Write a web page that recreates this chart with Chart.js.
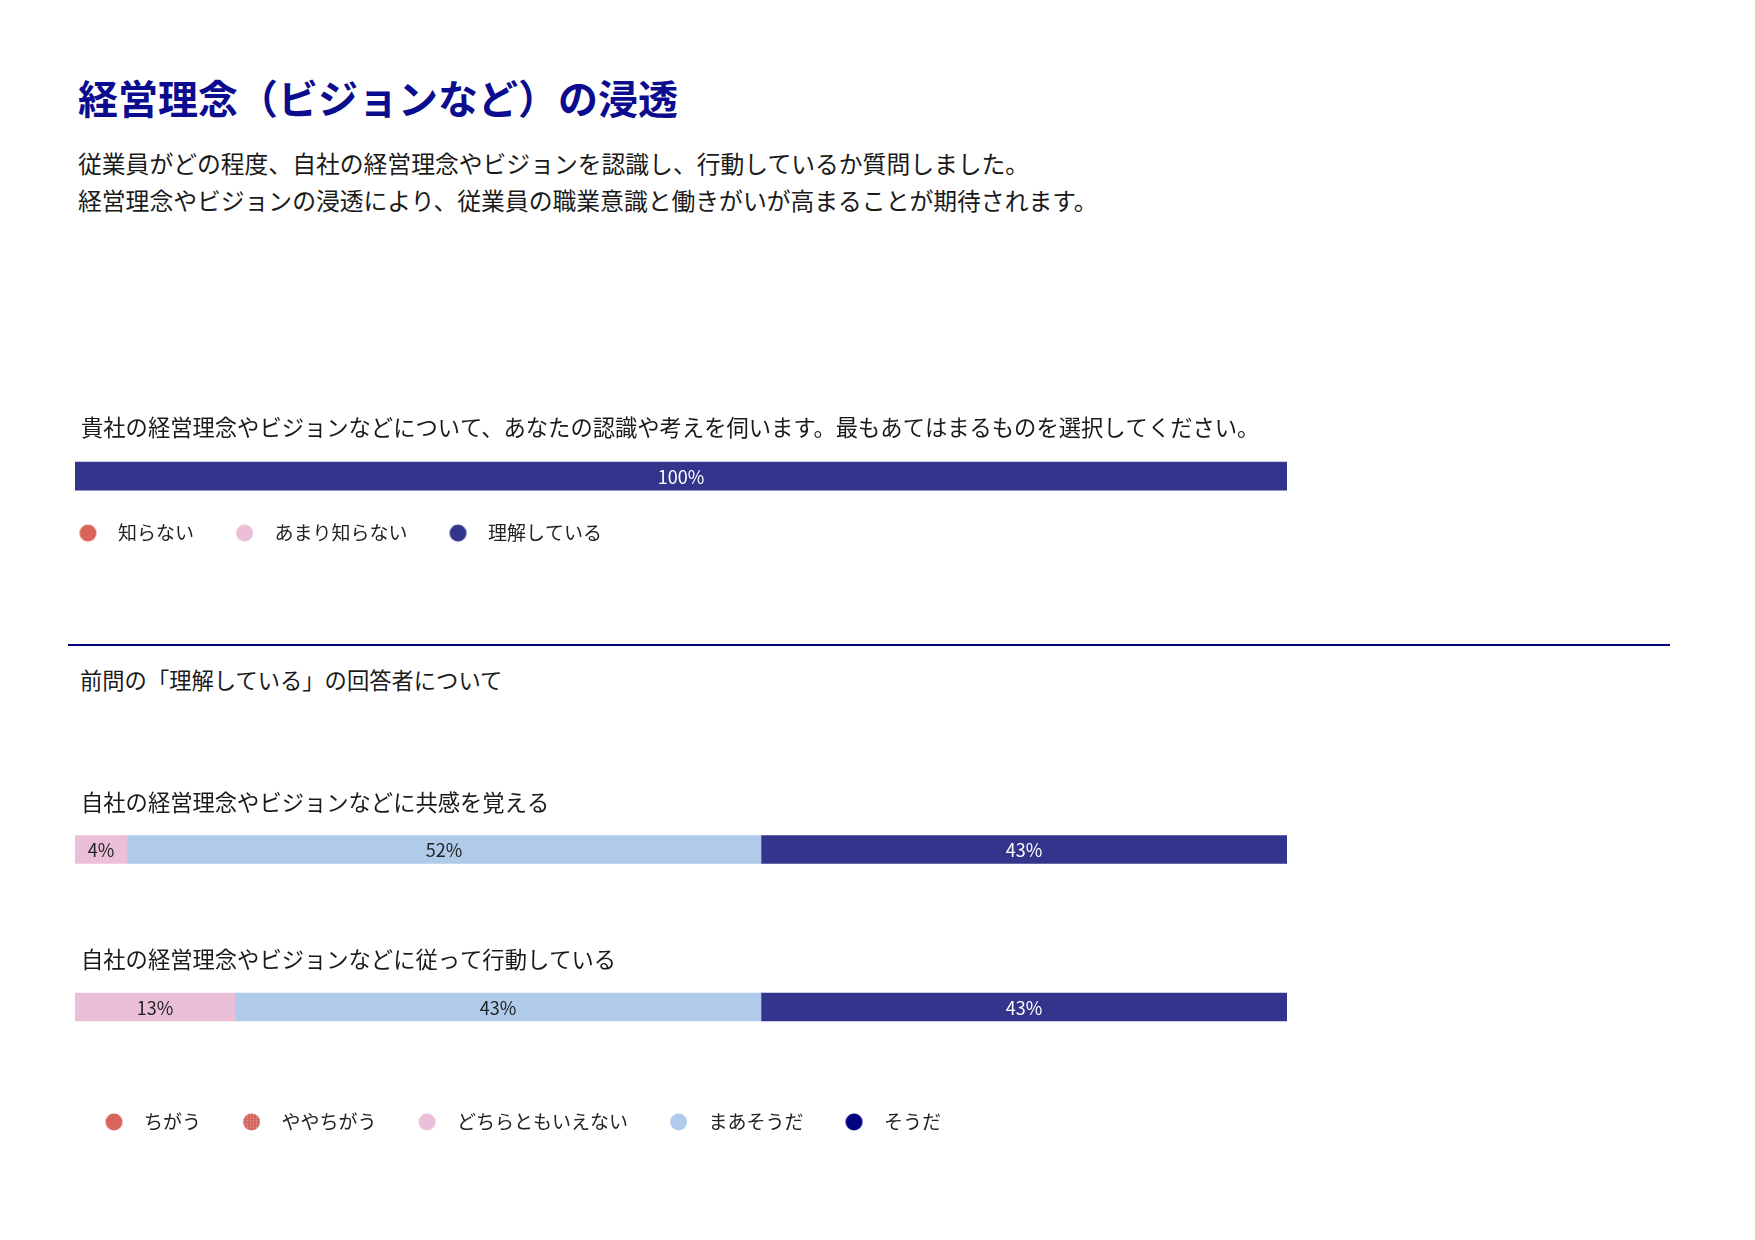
<!DOCTYPE html>
<html lang="ja">
<head>
<meta charset="utf-8">
<script src="https://cdn.jsdelivr.net/npm/chart.js@4"></script>
<style>
  html, body { margin: 0; padding: 0; background: #fff; }
  body {
    width: 1755px; height: 1240px; position: relative; overflow: hidden;
    font-family: "Noto Sans CJK JP", sans-serif; color: #1a1a1a;
  }
  .t { position: absolute; white-space: nowrap; line-height: 1; }
  #title { left: 78px; top: 77px; font-size: 40px; font-weight: bold; color: #0c0c8e; }
  #lead1 { left: 78px; top: 151px; font-size: 23.8px; }
  #lead2 { left: 78px; top: 188px; font-size: 23.8px; }
  #rule { position: absolute; left: 68px; top: 644px; width: 1602px; height: 2px; background: #00007f; }
  #sub { left: 80px; top: 668px; font-size: 22.3px; }
  canvas { position: absolute; left: 0; }
  #c1 { top: 378px; }
  #c2 { top: 700px; }
</style>
</head>
<body>
<div class="t" id="title">経営理念（ビジョンなど）の浸透</div>
<div class="t" id="lead1">従業員がどの程度、自社の経営理念やビジョンを認識し、行動しているか質問しました。</div>
<div class="t" id="lead2">経営理念やビジョンの浸透により、従業員の職業意識と働きがいが高まることが期待されます。</div>
<div id="rule"></div>
<div class="t" id="sub">前問の「理解している」の回答者について</div>
<canvas id="c1" width="1755" height="200"></canvas>
<canvas id="c2" width="1755" height="500"></canvas>
<script>
// question 1
const q1Labels = ['貴社の経営理念やビジョンなどについて、あなたの認識や考えを伺います。最もあてはまるものを選択してください。']
const q1Series = ['知らない', 'あまり知らない', '理解している']
const q1Values = [[0], [0], [100]]

// follow-up questions (percent of respondents)
const q2Labels = ['自社の経営理念やビジョンなどに共感を覚える', '自社の経営理念やビジョンなどに従って行動している']
const q2Series = ['ちがう', 'ややちがう', 'どちらともいえない', 'まあそうだ', 'そうだ']
const q2Values = [
  [0, 0],
  [0, 0],
  [4.3, 13.2],
  [52.3, 43.4],
  [43.4, 43.4]
]

const RED = '#d9645a', PINK = '#eabfd7', LIGHT = '#b0cbea', NAVY = '#33348c', DEEP = '#000080'
const q1Colors = [RED, PINK, NAVY]
const q1Marks = [RED, PINK, NAVY]
const q2Colors = [RED, RED, PINK, LIGHT, NAVY]
const q2Marks = [RED, 'dots', PINK, LIGHT, DEEP]
const q1Text = ['#222', '#222', '#fff']
const q2Text = ['#fff', '#fff', '#222', '#222', '#fff']

Chart.defaults.font.family = '"Noto Sans CJK JP", sans-serif'
Chart.defaults.color = '#222'

// legend marker: circle sitting at offset `cx` inside a box of width `box`
function marker(color, box, cx) {
  const c = document.createElement('canvas')
  c.width = 46
  c.height = 22
  const g = c.getContext('2d')
  const x0 = 23 + (cx - box / 2), y0 = 11, r = 8.5
  g.beginPath()
  g.arc(x0, y0, r, 0, Math.PI * 2)
  g.fillStyle = color === 'dots' ? RED : color
  g.fill()
  if (color === 'dots') {
    g.save()
    g.clip()
    g.fillStyle = '#b9d2e6'
    for (let x = x0 - r; x < x0 + r; x += 3) {
      for (let y = y0 - r; y < y0 + r; y += 3) g.fillRect(x + 1, y + 1, 1, 1)
    }
    g.restore()
  }
  return c
}

const barTitles = {
  id: 'barTitles',
  afterDatasetsDraw(chart, args, opts) {
    const { ctx, scales: { y } } = chart
    ctx.save()
    ctx.font = '22.3px "Noto Sans CJK JP"'
    ctx.fillStyle = '#1a1a1a'
    ctx.textBaseline = 'middle'
    chart.data.labels.forEach((lab, i) => {
      ctx.fillText(lab, 81, y.getPixelForValue(i) - opts.gap)
    })
    ctx.restore()
  }
}

const barValues = {
  id: 'barValues',
  afterDatasetsDraw(chart) {
    const ctx = chart.ctx
    ctx.save()
    ctx.font = '18px "Noto Sans CJK JP"'
    ctx.textAlign = 'center'
    ctx.textBaseline = 'middle'
    chart.data.datasets.forEach((ds, di) => {
      chart.getDatasetMeta(di).data.forEach((bar, i) => {
        const v = ds.data[i]
        if (!v) return
        const p = bar.getCenterPoint()
        ctx.fillStyle = ds.textColor
        ctx.fillText(Math.round(v) + '%', p.x, p.y + 1)
      })
    })
    ctx.restore()
  }
}

function makeChart(id, labels, series, values, colors, marks, textColors, pad, axisWidth, gap, legendPad) {
  // keep item pitch (box + half font + padding) at 80.5 and circle-to-text at 30
  const box = 80.5 - 9.5 - legendPad
  const cx = box + 9.5 - 30
  const markers = marks.map(m => marker(m, box, cx))
  return new Chart(document.getElementById(id), {
    type: 'bar',
    data: {
      labels: labels,
      datasets: series.map((name, i) => ({
        label: name,
        data: values[i],
        backgroundColor: colors[i],
        textColor: textColors[i],
        borderWidth: 0,
        inflateAmount: c => (c.raw ? 0.33 : 0),
        barThickness: 28
      }))
    },
    options: {
      indexAxis: 'y',
      responsive: false,
      animation: false,
      layout: { padding: pad },
      scales: {
        x: { stacked: true, min: 0, max: 100, display: false },
        y: {
          stacked: true,
          grid: { display: false },
          border: { display: false },
          ticks: { display: false },
          afterFit(scale) { scale.width = axisWidth }
        }
      },
      plugins: {
        tooltip: { enabled: false },
        barTitles: { gap: gap },
        legend: {
          position: 'bottom',
          align: 'start',
          labels: {
            usePointStyle: true,
            pointStyleWidth: box,
            padding: legendPad,
            color: '#222',
            font: { size: 19 },
            generateLabels(chart) {
              const items = Chart.defaults.plugins.legend.labels.generateLabels(chart)
              items.forEach((it, i) => { it.pointStyle = markers[i] })
              return items
            }
          }
        }
      }
    },
    plugins: [barTitles, barValues]
  })
}

// legend left = first circle centre - 50.5
makeChart('c1', q1Labels, q1Series, q1Values, q1Colors, q1Marks, q1Text,
  { left: 37.5, right: 468, top: 75.25, bottom: 33.5 }, 37.5, 49, 24.75)
makeChart('c2', q2Labels, q2Series, q2Values, q2Colors, q2Marks, q2Text,
  { left: 63.5, right: 468, top: 70.75, bottom: 58.5 }, 11.5, 47, 26.75)
</script>
</body>
</html>
